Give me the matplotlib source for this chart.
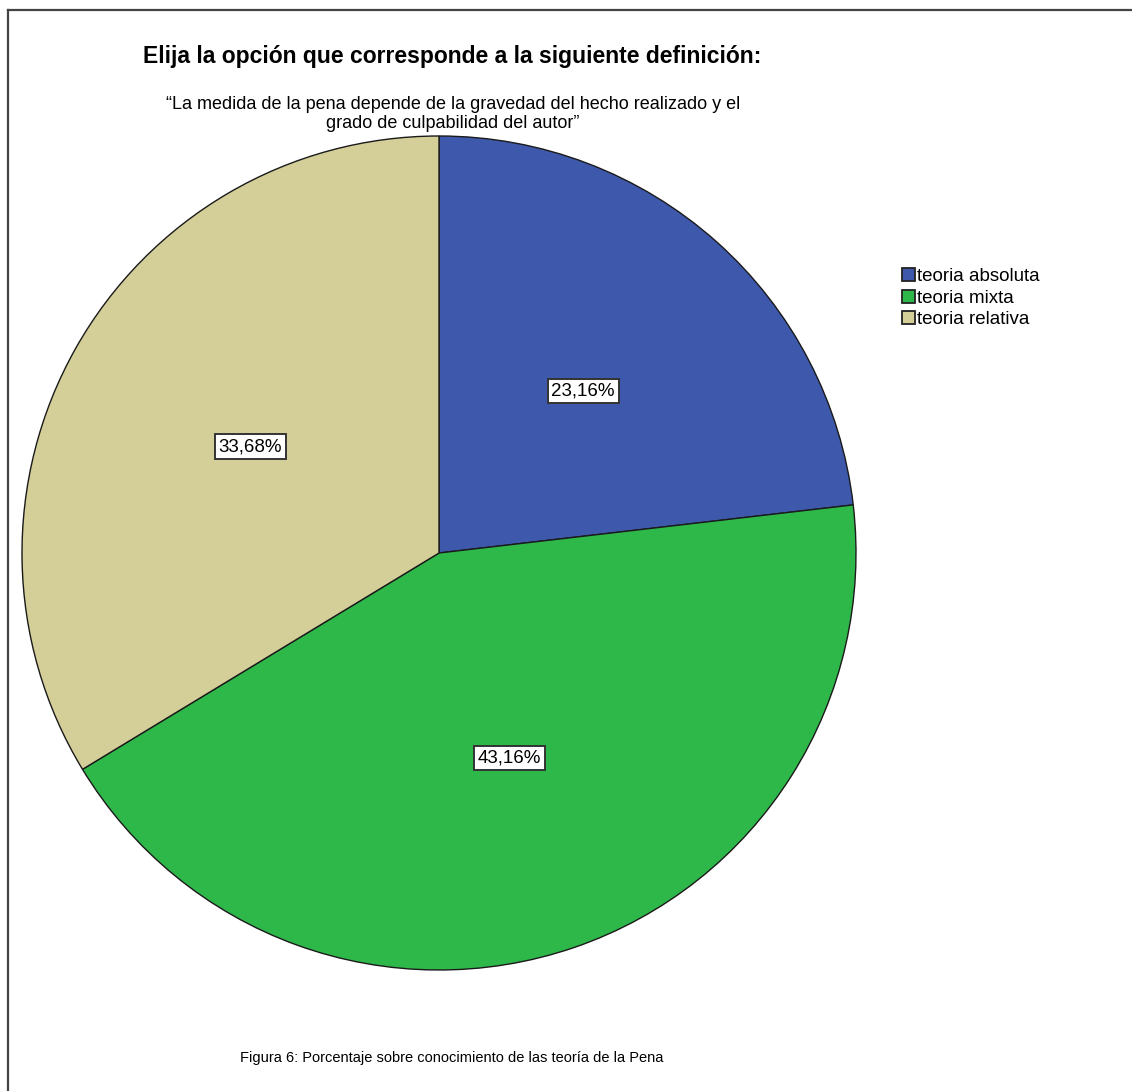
import matplotlib
matplotlib.use("Agg")
import matplotlib.pyplot as plt
from matplotlib.lines import Line2D
from matplotlib.patches import Patch

# Porcentajes por categoría
categorias = ["teoria absoluta", "teoria mixta", "teoria relativa"]
porcentajes = [23.16, 43.16, 33.68]
colores = ["#3E58AC", "#2EB84A", "#D4CE98"]

titulo = "Elija la opción que corresponde a la siguiente definición:"
subtitulo = ("\u201cLa medida de la pena depende de la gravedad del hecho realizado y el\n"
             "grado de culpabilidad del autor\u201d")
pie_figura = "Figura 6: Porcentaje sobre conocimiento de las teoría de la Pena"

W, H = 1132, 1091
fig = plt.figure(figsize=(W / 100, H / 100), dpi=100)
plt.rcParams['font.family'] = ['Liberation Sans', 'DejaVu Sans']

# centro del pastel y radio en pixeles
cx, cy, r = 439, 553, 417
ax = fig.add_axes([(cx - r) / W, (H - cy - r) / H, 2 * r / W, 2 * r / H])

wedges, texts = ax.pie(
    porcentajes, colors=colores, startangle=90, counterclock=False,
    labels=[f"{p:.2f}%".replace(".", ",") for p in porcentajes],
    labeldistance=0.52,
    wedgeprops=dict(edgecolor="#1a1a1a", linewidth=1.0),
)
for t in texts:
    t.set_ha("center")
    t.set_va("center")
    t.set_fontsize(13.5)
    t.set_bbox(dict(boxstyle="square,pad=0.2", facecolor="white",
                    edgecolor="#333333", linewidth=1.4))
ax.set_xlim(-1, 1)
ax.set_ylim(-1, 1)
ax.set_aspect("equal")
ax.axis("off")

# marco exterior
fig.add_artist(Line2D([7.5 / W, 7.5 / W], [(H - 10) / H, 0], color="#444444",
                      linewidth=1.6, transform=fig.transFigure))
fig.add_artist(Line2D([7.5 / W, 1], [(H - 10) / H, (H - 10) / H], color="#444444",
                      linewidth=1.6, transform=fig.transFigure))

fig.text(452 / W, 1 - 57 / H, titulo, ha="center", va="center",
         fontsize=16.5, fontweight="bold")
fig.text(453 / W, 1 - 114 / H, subtitulo, ha="center", va="center",
         fontsize=13, linespacing=1.15)
fig.text(452 / W, 1 - 1058 / H, pie_figura, ha="center", va="center",
         fontsize=10.5, family=['Liberation Sans Narrow', 'Liberation Sans', 'DejaVu Sans'])

handles = [Patch(facecolor=c, edgecolor="#222222", linewidth=1.3) for c in colores]
fig.legend(handles, categorias, loc="upper left",
           bbox_to_anchor=(902 / W, 1 - 268 / H), frameon=False,
           fontsize=13.5, handlelength=0.7, handleheight=0.7,
           handletextpad=0.12, labelspacing=0.24, borderpad=0, borderaxespad=0)

fig.savefig("out.png", dpi=100)
